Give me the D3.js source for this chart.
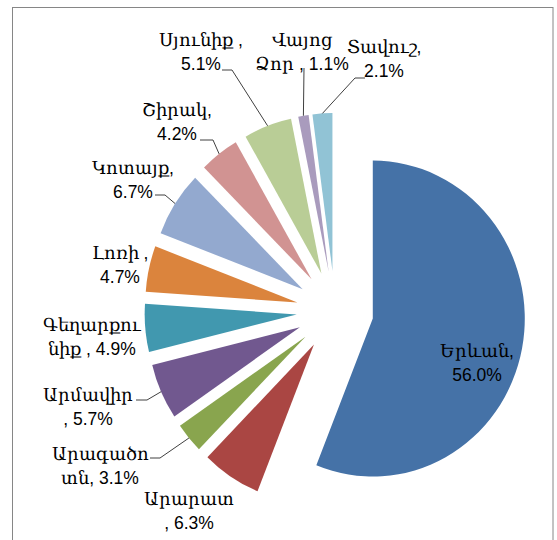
<!DOCTYPE html>
<html>
<head>
<meta charset="utf-8">
<script src="https://cdn.jsdelivr.net/npm/d3@7"></script>
<style>
  @font-face {
    font-family: "ArmSerif";
    src: local("DejaVu Serif"), local("DejaVuSerif");
    unicode-range: U+0530-058F;
  }
  body { margin: 0; background: #fff; }
  svg { display: block; }
  .lbl { font-family: "ArmSerif", "Liberation Sans", sans-serif; font-size: 17.5px; fill: #000; }
</style>
</head>
<body>
<div id="chart"></div>
<script>
// regions, clockwise from 12 o'clock
const regions = ["Երևան", "Արարատ", "Արագածոտն", "Արմավիր", "Գեղարքունիք", "Լոռի", "Կոտայք", "Շիրակ", "Սյունիք", "Վայոց Ձոր", "Տավուշ"]
const shares = [56.0, 6.3, 3.1, 5.7, 4.9, 4.7, 6.7, 4.2, 5.1, 1.1, 2.1]
const colors = ["#4572A7", "#AA4643", "#89A54E", "#71588F", "#4198AF", "#DB843D", "#93A9CF", "#D19392", "#B9CD96", "#A99BBD", "#91C3D5"]
// label text as wrapped in the picture
const labelLines = [
  ["Երևան,", "56.0%"],
  ["Արարատ", ", 6.3%"],
  ["Արագածո", "տն, 3.1%"],
  ["Արմավիր", ", 5.7%"],
  ["Գեղարքու", "նիք , 4.9%"],
  ["Լոռի ,", "4.7%"],
  ["Կոտայք,", "6.7%"],
  ["Շիրակ,", "4.2%"],
  ["Սյունիք ,", "5.1%"],
  ["Վայոց", "Ձոր , 1.1%"],
  ["Տավուշ,", "2.1%"]
]

// layout
const width = 557, height = 540
const cx = 335, cy = 311
const radius = 158
const explode = 40
const squeeze = 0.962   // picture is a bit narrower than tall
const lineGap = 24
// label boxes: centre x, first baseline, and leader start points
const labelPos = [
  {x: 477, y: 357},
  {x: 189, y: 505},
  {x: 100, y: 460, leader: [[150, 458], [160, 458]]},
  {x: 88, y: 401, leader: [[136, 400], [147, 400]]},
  {x: 92, y: 331},
  {x: 120, y: 259},
  {x: 133, y: 174, leader: [[155, 195], [165, 195]]},
  {x: 177, y: 116, leader: [[200, 140], [213, 140]]},
  {x: 201, y: 46, leader: [[222, 70], [232, 70]]},
  {x: 302, y: 46, leader: [[304, 68]]},
  {x: 384, y: 53, leader: [[365, 78], [355, 78]]}
]

const svg = d3.select("#chart").append("svg")
  .attr("width", width)
  .attr("height", height)

// chart frame
svg.append("rect")
  .attr("x", 12.5).attr("y", 7.5)
  .attr("width", 540.5).attr("height", 560)
  .attr("fill", "none")
  .attr("stroke", "#868686")
  .attr("stroke-width", 1)

const data = regions.map((r, i) => ({name: r, value: shares[i], color: colors[i], lines: labelLines[i], pos: labelPos[i]}))

const pie = d3.pie().sort(null).value(d => d.value)
const arcs = pie(data)
const arc = d3.arc().innerRadius(0).outerRadius(radius)

const g = svg.append("g")
  .attr("transform", "translate(" + cx + "," + cy + ") scale(" + squeeze + ",1)")

g.selectAll("path")
  .data(arcs)
  .enter()
  .append("path")
  .attr("d", arc)
  .attr("fill", d => d.data.color)
  .attr("transform", d => {
    const a = (d.startAngle + d.endAngle) / 2
    return "translate(" + (explode * Math.sin(a)) + "," + (-explode * Math.cos(a)) + ")"
  })

// point on the outer rim at the middle of a slice, in page coords
function rimPoint(d) {
  const a = (d.startAngle + d.endAngle) / 2
  const k = explode + radius
  return [cx + squeeze * k * Math.sin(a), cy - k * Math.cos(a)]
}

// leader lines
const leaders = arcs.filter(d => d.data.pos.leader)
svg.selectAll("path.leader")
  .data(leaders)
  .enter()
  .append("path")
  .attr("class", "leader")
  .attr("fill", "none")
  .attr("stroke", "#404040")
  .attr("stroke-width", 1)
  .attr("d", d => d3.line()(d.data.pos.leader.concat([rimPoint(d)])))

// labels
const labels = svg.selectAll("text.lbl")
  .data(arcs)
  .enter()
  .append("text")
  .attr("class", "lbl")
  .attr("text-anchor", "middle")

labels.selectAll("tspan")
  .data(d => d.data.lines.map((t, i) => ({t: t, i: i, p: d.data.pos})))
  .enter()
  .append("tspan")
  .attr("x", d => d.p.x)
  .attr("y", d => d.p.y + d.i * lineGap)
  .text(d => d.t)
</script>
</body>
</html>
